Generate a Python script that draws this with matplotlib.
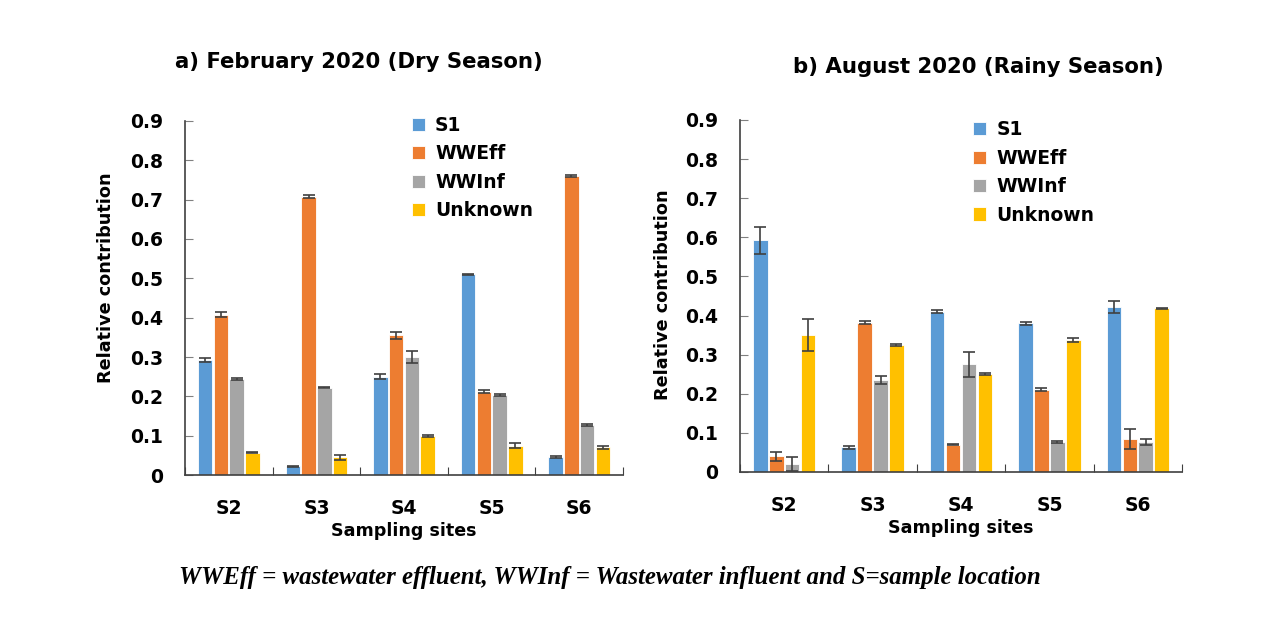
import matplotlib as mpl
import matplotlib.pyplot as plt
import numpy as np

mpl.rcParams['font.family'] = ['DejaVu Sans']
mpl.rcParams['font.weight'] = 'bold'

# Source apportionment values
sites = ['S2', 'S3', 'S4', 'S5', 'S6']
sources = ['S1', 'WWEff', 'WWInf', 'Unknown']
colors = ['#5B9BD5', '#ED7D31', '#A5A5A5', '#FFC000']

# February 2020 (dry season), one list per source, in site order
feb_s1 = [0.292, 0.022, 0.250, 0.510, 0.045]
feb_wweff = [0.408, 0.708, 0.355, 0.212, 0.760]
feb_wwinf = [0.244, 0.222, 0.300, 0.203, 0.127]
feb_unknown = [0.057, 0.045, 0.100, 0.075, 0.070]
feb_err_s1 = [0.005, 0.002, 0.006, 0.002, 0.003]
feb_err_wweff = [0.007, 0.004, 0.009, 0.004, 0.003]
feb_err_wwinf = [0.002, 0.002, 0.016, 0.002, 0.002]
feb_err_unknown = [0.002, 0.006, 0.003, 0.006, 0.004]

# August 2020 (rainy season)
aug_s1 = [0.592, 0.063, 0.410, 0.380, 0.422]
aug_wweff = [0.040, 0.382, 0.070, 0.210, 0.085]
aug_wwinf = [0.020, 0.235, 0.275, 0.077, 0.077]
aug_unknown = [0.350, 0.325, 0.250, 0.337, 0.418]
aug_err_s1 = [0.035, 0.003, 0.003, 0.004, 0.015]
aug_err_wweff = [0.012, 0.004, 0.002, 0.004, 0.025]
aug_err_wwinf = [0.018, 0.010, 0.033, 0.002, 0.008]
aug_err_unknown = [0.040, 0.003, 0.002, 0.005, 0.002]

feb_values = [feb_s1, feb_wweff, feb_wwinf, feb_unknown]
feb_errors = [feb_err_s1, feb_err_wweff, feb_err_wwinf, feb_err_unknown]
aug_values = [aug_s1, aug_wweff, aug_wwinf, aug_unknown]
aug_errors = [aug_err_s1, aug_err_wweff, aug_err_wwinf, aug_err_unknown]

fig = plt.figure(figsize=(12.7, 6.22), dpi=100)
ax_left = fig.add_axes([0.1457, 0.2363, 0.3449, 0.5692])
ax_right = fig.add_axes([0.5827, 0.2412, 0.3480, 0.5659])

x = np.arange(len(sites))
offsets = [-0.27, -0.09, 0.09, 0.27]
bar_width = 0.165


def draw_panel(ax, values, errors, legend_anchor, ylabel_xy):
    for i in range(len(sources)):
        ax.bar(x + offsets[i], values[i], bar_width, color=colors[i],
               edgecolor='white', linewidth=0.6, label=sources[i],
               yerr=errors[i], error_kw=dict(ecolor='#404040', elinewidth=1.2,
                                              capsize=4.5, capthick=1.2))
    ax.set_xlim(-0.5, 4.5)
    ax.set_ylim(0, 0.9)
    ax.set_yticks(np.arange(0, 0.91, 0.1))
    ax.set_yticklabels(['0'] + ['{:.1f}'.format(v) for v in np.arange(0.1, 0.91, 0.1)])
    ax.set_xticks(np.arange(-0.5, 5, 1.0))
    ax.set_xticklabels([])
    ax.set_xticks(x, minor=True)
    ax.set_xticklabels(sites, minor=True)
    ax.tick_params(axis='x', which='major', direction='in', length=6, color='#404040')
    ax.tick_params(axis='x', which='minor', length=0, pad=17, labelsize=13.5)
    ax.tick_params(axis='y', direction='in', length=6, color='#808080', pad=16, labelsize=13.5)
    for side in ['top', 'right']:
        ax.spines[side].set_visible(False)
    for side in ['left', 'bottom']:
        ax.spines[side].set_color('#404040')
        ax.spines[side].set_linewidth(1.2)
    ax.set_ylabel('Relative contribution', fontsize=12.7, fontweight='bold')
    ax.yaxis.set_label_coords(*ylabel_xy)
    ax.set_xlabel('Sampling sites', fontsize=12.6, fontweight='bold', labelpad=3)
    ax.legend(loc='upper left', bbox_to_anchor=legend_anchor, frameon=False,
              fontsize=13.5, handlelength=0.7, handleheight=0.7,
              handletextpad=0.55, labelspacing=0.5, borderaxespad=0)


draw_panel(ax_left, feb_values, feb_errors, (0.5, 1.035), (-0.16, 0.556))
draw_panel(ax_right, aug_values, aug_errors, (0.51, 1.02), (-0.155, 0.505))

fig.text(0.2827, 0.90, 'a) February 2020 (Dry Season)', ha='center', va='center',
         fontsize=15.3, fontweight='bold')
fig.text(0.770, 0.892, 'b) August 2020 (Rainy Season)', ha='center', va='center',
         fontsize=15.3, fontweight='bold')
fig.text(0.480, 0.071, 'WWEff = wastewater effluent, WWInf = Wastewater influent and S=sample location',
         ha='center', va='center', family=['Liberation Serif', 'DejaVu Serif'],
         style='italic', fontweight='bold', fontsize=17.9)

fig.savefig('out.png', dpi=100)
